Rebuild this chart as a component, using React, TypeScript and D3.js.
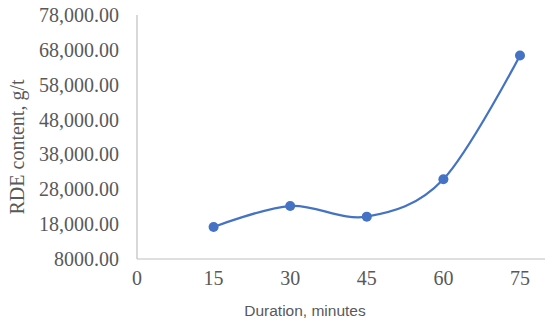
import React, { useEffect, useRef } from 'react';
import * as d3 from 'd3';

// RDE content vs leaching duration
const durations = [15, 30, 45, 60, 75];
const rdeContent = [17200, 23200, 20150, 30900, 66400];
const xTicks = [0, 15, 30, 45, 60, 75];
const yTicks = [8000, 18000, 28000, 38000, 48000, 58000, 68000, 78000];

const App = () => {
  const chartRef = useRef<SVGSVGElement>(null);

  useEffect(() => {
    const svg = d3.select(chartRef.current);
    svg.selectAll('*').remove();

    const width = 550;
    const height = 321;
    const left = 137;
    const right = 545;
    const top = 15;
    const bottom = 259;

    const x = d3.scaleLinear().domain([0, 75]).range([left, 520]);
    const y = d3.scaleLinear().domain([8000, 78000]).range([bottom, top]);

    svg.attr('width', width).attr('height', height);

    // axis lines
    svg.append('line')
      .attr('x1', left).attr('x2', left)
      .attr('y1', top).attr('y2', bottom)
      .attr('stroke', '#bfbfbf').attr('stroke-width', 1.2);
    svg.append('line')
      .attr('x1', left).attr('x2', right)
      .attr('y1', bottom).attr('y2', bottom)
      .attr('stroke', '#bfbfbf').attr('stroke-width', 1.2);

    const fmt = (v: number) => (v < 10000 ? d3.format('.2f')(v) : d3.format(',.2f')(v));

    svg.append('g').selectAll('text')
      .data(yTicks)
      .enter().append('text')
      .attr('x', 119)
      .attr('y', (d) => y(d))
      .attr('dy', '0.35em')
      .attr('text-anchor', 'end')
      .attr('font-family', '"Liberation Serif", serif')
      .attr('font-size', 20)
      .attr('fill', '#595959')
      .text(fmt);

    svg.append('g').selectAll('text')
      .data(xTicks)
      .enter().append('text')
      .attr('x', (d) => x(d))
      .attr('y', 285)
      .attr('text-anchor', 'middle')
      .attr('font-family', '"Liberation Serif", serif')
      .attr('font-size', 20)
      .attr('fill', '#595959')
      .text((d) => d);

    // axis titles
    svg.append('text')
      .attr('transform', 'translate(24,147) rotate(-90)')
      .attr('text-anchor', 'middle')
      .attr('font-family', '"Liberation Serif", serif')
      .attr('font-size', 20)
      .attr('fill', '#595959')
      .text('RDE content, g/t');

    svg.append('text')
      .attr('x', 305)
      .attr('y', 316)
      .attr('text-anchor', 'middle')
      .attr('font-family', '"Liberation Sans", sans-serif')
      .attr('font-size', 15.5)
      .attr('fill', '#595959')
      .text('Duration, minutes');

    const points = durations.map((d, i) => [d, rdeContent[i]] as [number, number]);

    const line = d3.line<[number, number]>()
      .x((d) => x(d[0]))
      .y((d) => y(d[1]))
      .curve(d3.curveCardinal.tension(0));

    svg.append('path')
      .datum(points)
      .attr('d', line)
      .attr('fill', 'none')
      .attr('stroke', '#4472c4')
      .attr('stroke-width', 2.25);

    svg.append('g').selectAll('circle')
      .data(points)
      .enter().append('circle')
      .attr('cx', (d) => x(d[0]))
      .attr('cy', (d) => y(d[1]))
      .attr('r', 5)
      .attr('fill', '#4472c4');
  }, []);

  return <svg ref={chartRef} style={{ position: 'absolute', left: 0, top: 0 }}></svg>;
};

export default App;
